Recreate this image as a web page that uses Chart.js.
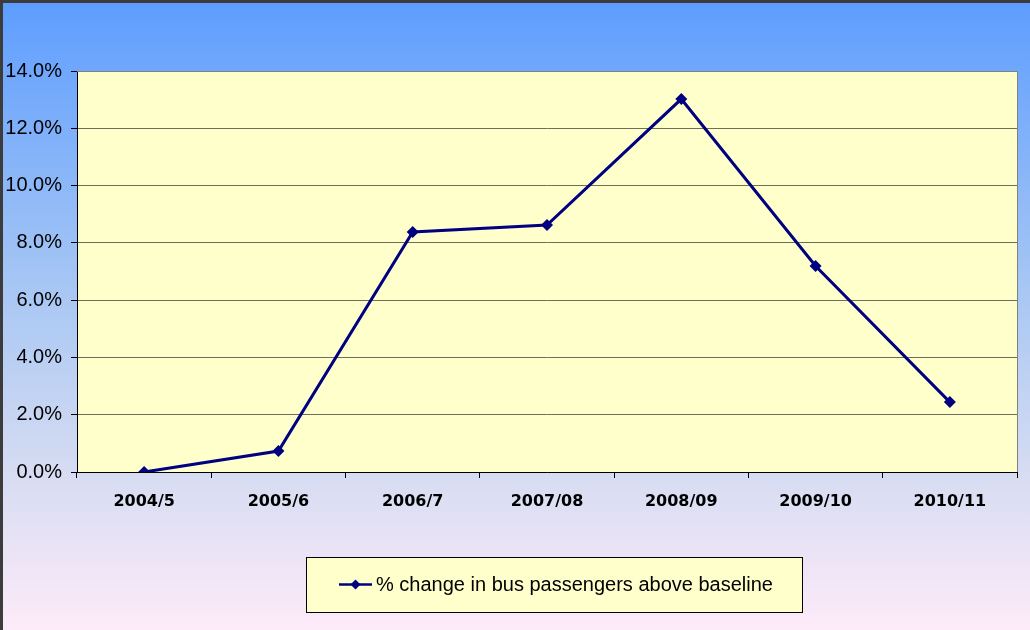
<!DOCTYPE html>
<html>
<head>
<meta charset="utf-8">
<script src="https://cdn.jsdelivr.net/npm/chart.js@4.4.1/dist/chart.umd.min.js"></script>
<style>
  body { margin: 0; background: #fff; }
  #wrap { width: 1030px; height: 630px; }
</style>
</head>
<body>
<div id="wrap"><canvas id="myChart" width="1030" height="630"></canvas></div>
<script>
const years = ['2004/5', '2005/6', '2006/7', '2007/08', '2008/09', '2009/10', '2010/11'];
const busChange = [0.0, 0.73, 8.38, 8.62, 13.02, 7.19, 2.44];
const seriesLabel = '% change in bus passengers above baseline';
const yTicks = [0, 2, 4, 6, 8, 10, 12, 14];

// background gradient + frame + plot area fill
const backdrop = {
    id: 'backdrop',
    beforeDraw(chart) {
        const c = chart.ctx;
        const g = c.createLinearGradient(0, 0, 0, chart.height);
        g.addColorStop(0, '#5d9dff');
        g.addColorStop(0.45, '#a6c6f4');
        g.addColorStop(0.75, '#d6dcf2');
        g.addColorStop(1, '#feebf9');
        c.save();
        c.fillStyle = g;
        c.fillRect(0, 0, chart.width, chart.height);
        c.strokeStyle = '#3c3c3c';
        c.lineWidth = 3;
        c.strokeRect(1.5, 1.5, chart.width + 10, chart.height + 10);
        const a = chart.chartArea;
        c.fillStyle = '#ffffcc';
        c.fillRect(a.left, a.top, a.right - a.left, a.bottom - a.top);
        c.restore();
    },
    afterDatasetsDraw(chart) {
        const c = chart.ctx;
        const a = chart.chartArea;
        c.save();
        c.strokeStyle = '#808080';
        c.lineWidth = 1;
        c.beginPath();
        c.moveTo(a.left, a.top + 0.5);
        c.lineTo(a.right + 0.5, a.top + 0.5);
        c.lineTo(a.right + 0.5, a.bottom);
        c.stroke();
        c.restore();
    }
};

// boxed legend like the spreadsheet one
const boxLegend = {
    id: 'boxLegend',
    afterDraw(chart) {
        const c = chart.ctx;
        const x = 306, y = 557, w = 496, h = 55;
        c.save();
        c.fillStyle = '#ffffcc';
        c.fillRect(x, y, w, h);
        c.strokeStyle = '#000';
        c.lineWidth = 1;
        c.strokeRect(x + 0.5, y + 0.5, w, h);
        const cy = y + h / 2;
        c.strokeStyle = '#000080';
        c.lineWidth = 2.5;
        c.beginPath();
        c.moveTo(339, cy);
        c.lineTo(372, cy);
        c.stroke();
        c.fillStyle = '#000080';
        c.beginPath();
        c.moveTo(355.5, cy - 5);
        c.lineTo(360.5, cy);
        c.lineTo(355.5, cy + 5);
        c.lineTo(350.5, cy);
        c.closePath();
        c.fill();
        c.fillStyle = '#000';
        c.font = '20px "Liberation Sans", Arial, sans-serif';
        c.textBaseline = 'middle';
        c.fillText(seriesLabel, 376, cy + 1);
        c.restore();
    }
};

const ctx = document.getElementById('myChart').getContext('2d');
const MyChart = new Chart(ctx, {
    type: 'line',
    data: {
        labels: years,
        datasets: [{
            label: seriesLabel,
            data: busChange,
            borderColor: '#000080',
            backgroundColor: '#000080',
            borderWidth: 3,
            pointStyle: 'rectRot',
            pointRadius: 6,
            pointBorderWidth: 0,
            tension: 0
        }]
    },
    options: {
        responsive: false,
        animation: false,
        layout: { padding: { left: 0, top: 71, right: 13, bottom: 0 } },
        plugins: {
            legend: { display: false },
            tooltip: { enabled: false }
        },
        scales: {
            x: {
                offset: true,
                afterFit(scale) { scale.height = 158; },
                grid: {
                    offset: true,
                    drawOnChartArea: false,
                    drawTicks: true,
                    tickLength: 6,
                    color: '#000'
                },
                border: { color: '#000', width: 1 },
                ticks: {
                    color: '#000',
                    padding: 14,
                    maxRotation: 0,
                    font: { family: '"DejaVu Sans", sans-serif', size: 16, weight: 'bold' }
                }
            },
            y: {
                min: 0,
                max: 14,
                afterFit(scale) { scale.width = 77; },
                afterBuildTicks(scale) { scale.ticks = yTicks.map(v => ({ value: v })); },
                grid: {
                    color: '#6e6e5a',
                    lineWidth: 1,
                    tickLength: 6,
                    tickColor: '#000'
                },
                border: { color: '#000', width: 1 },
                ticks: {
                    color: '#000',
                    padding: 9,
                    font: { family: '"Liberation Sans", Arial, sans-serif', size: 20 },
                    callback: v => v.toFixed(1) + '%'
                }
            }
        }
    },
    plugins: [backdrop, boxLegend]
});
</script>
</body>
</html>
